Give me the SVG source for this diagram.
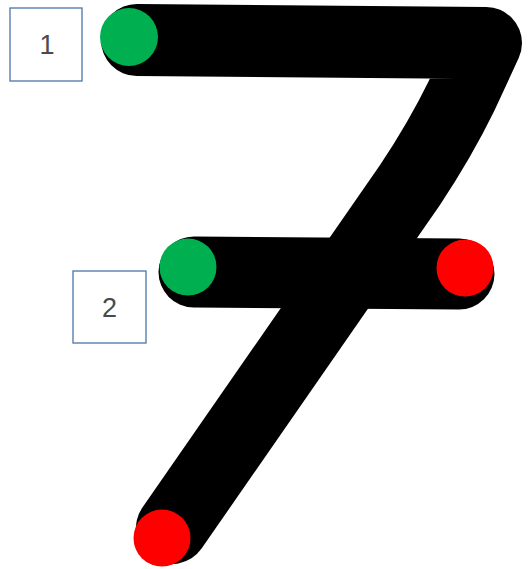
<svg xmlns="http://www.w3.org/2000/svg" width="531" height="569" viewBox="0 0 531 569">
  <style>
    .stroke { fill: none; stroke: #000; stroke-width: 72; stroke-linecap: round; stroke-linejoin: round; }
    .box { fill: #fff; stroke: #4a76a8; stroke-width: 1.3; }
    .lbl { font-family: "Liberation Sans", Arial, sans-serif; font-size: 27px; fill: #4a4a4a; text-anchor: middle; }
    .start { fill: #00b050; }
    .end { fill: #ff0000; }
  </style>
  <rect width="531" height="569" fill="#fff"/>
  <g id="connectors">
    <path id="stroke1" class="stroke" d="M 137 40 L 486 43 L 462 95 Q 440 140 410 185 L 172 528"/>
    <path id="stroke2" class="stroke" d="M 194 272 L 459 274" style="stroke-width:71"/>
  </g>
  <g id="dot-start-1"><circle class="start" cx="129" cy="37" r="29"/></g>
  <g id="dot-start-2"><circle class="start" cx="188" cy="267" r="28.5"/></g>
  <g id="dot-end-2"><circle class="end" cx="465" cy="268" r="28.5"/></g>
  <g id="dot-end-1"><circle class="end" cx="162" cy="538" r="28.5"/></g>
  <g id="label-1">
    <rect class="box" x="10" y="8" width="72" height="73"/>
    <text class="lbl" x="47" y="54">1</text>
  </g>
  <g id="label-2">
    <rect class="box" x="73" y="271" width="73" height="72"/>
    <text class="lbl" x="109.5" y="317">2</text>
  </g>
</svg>
